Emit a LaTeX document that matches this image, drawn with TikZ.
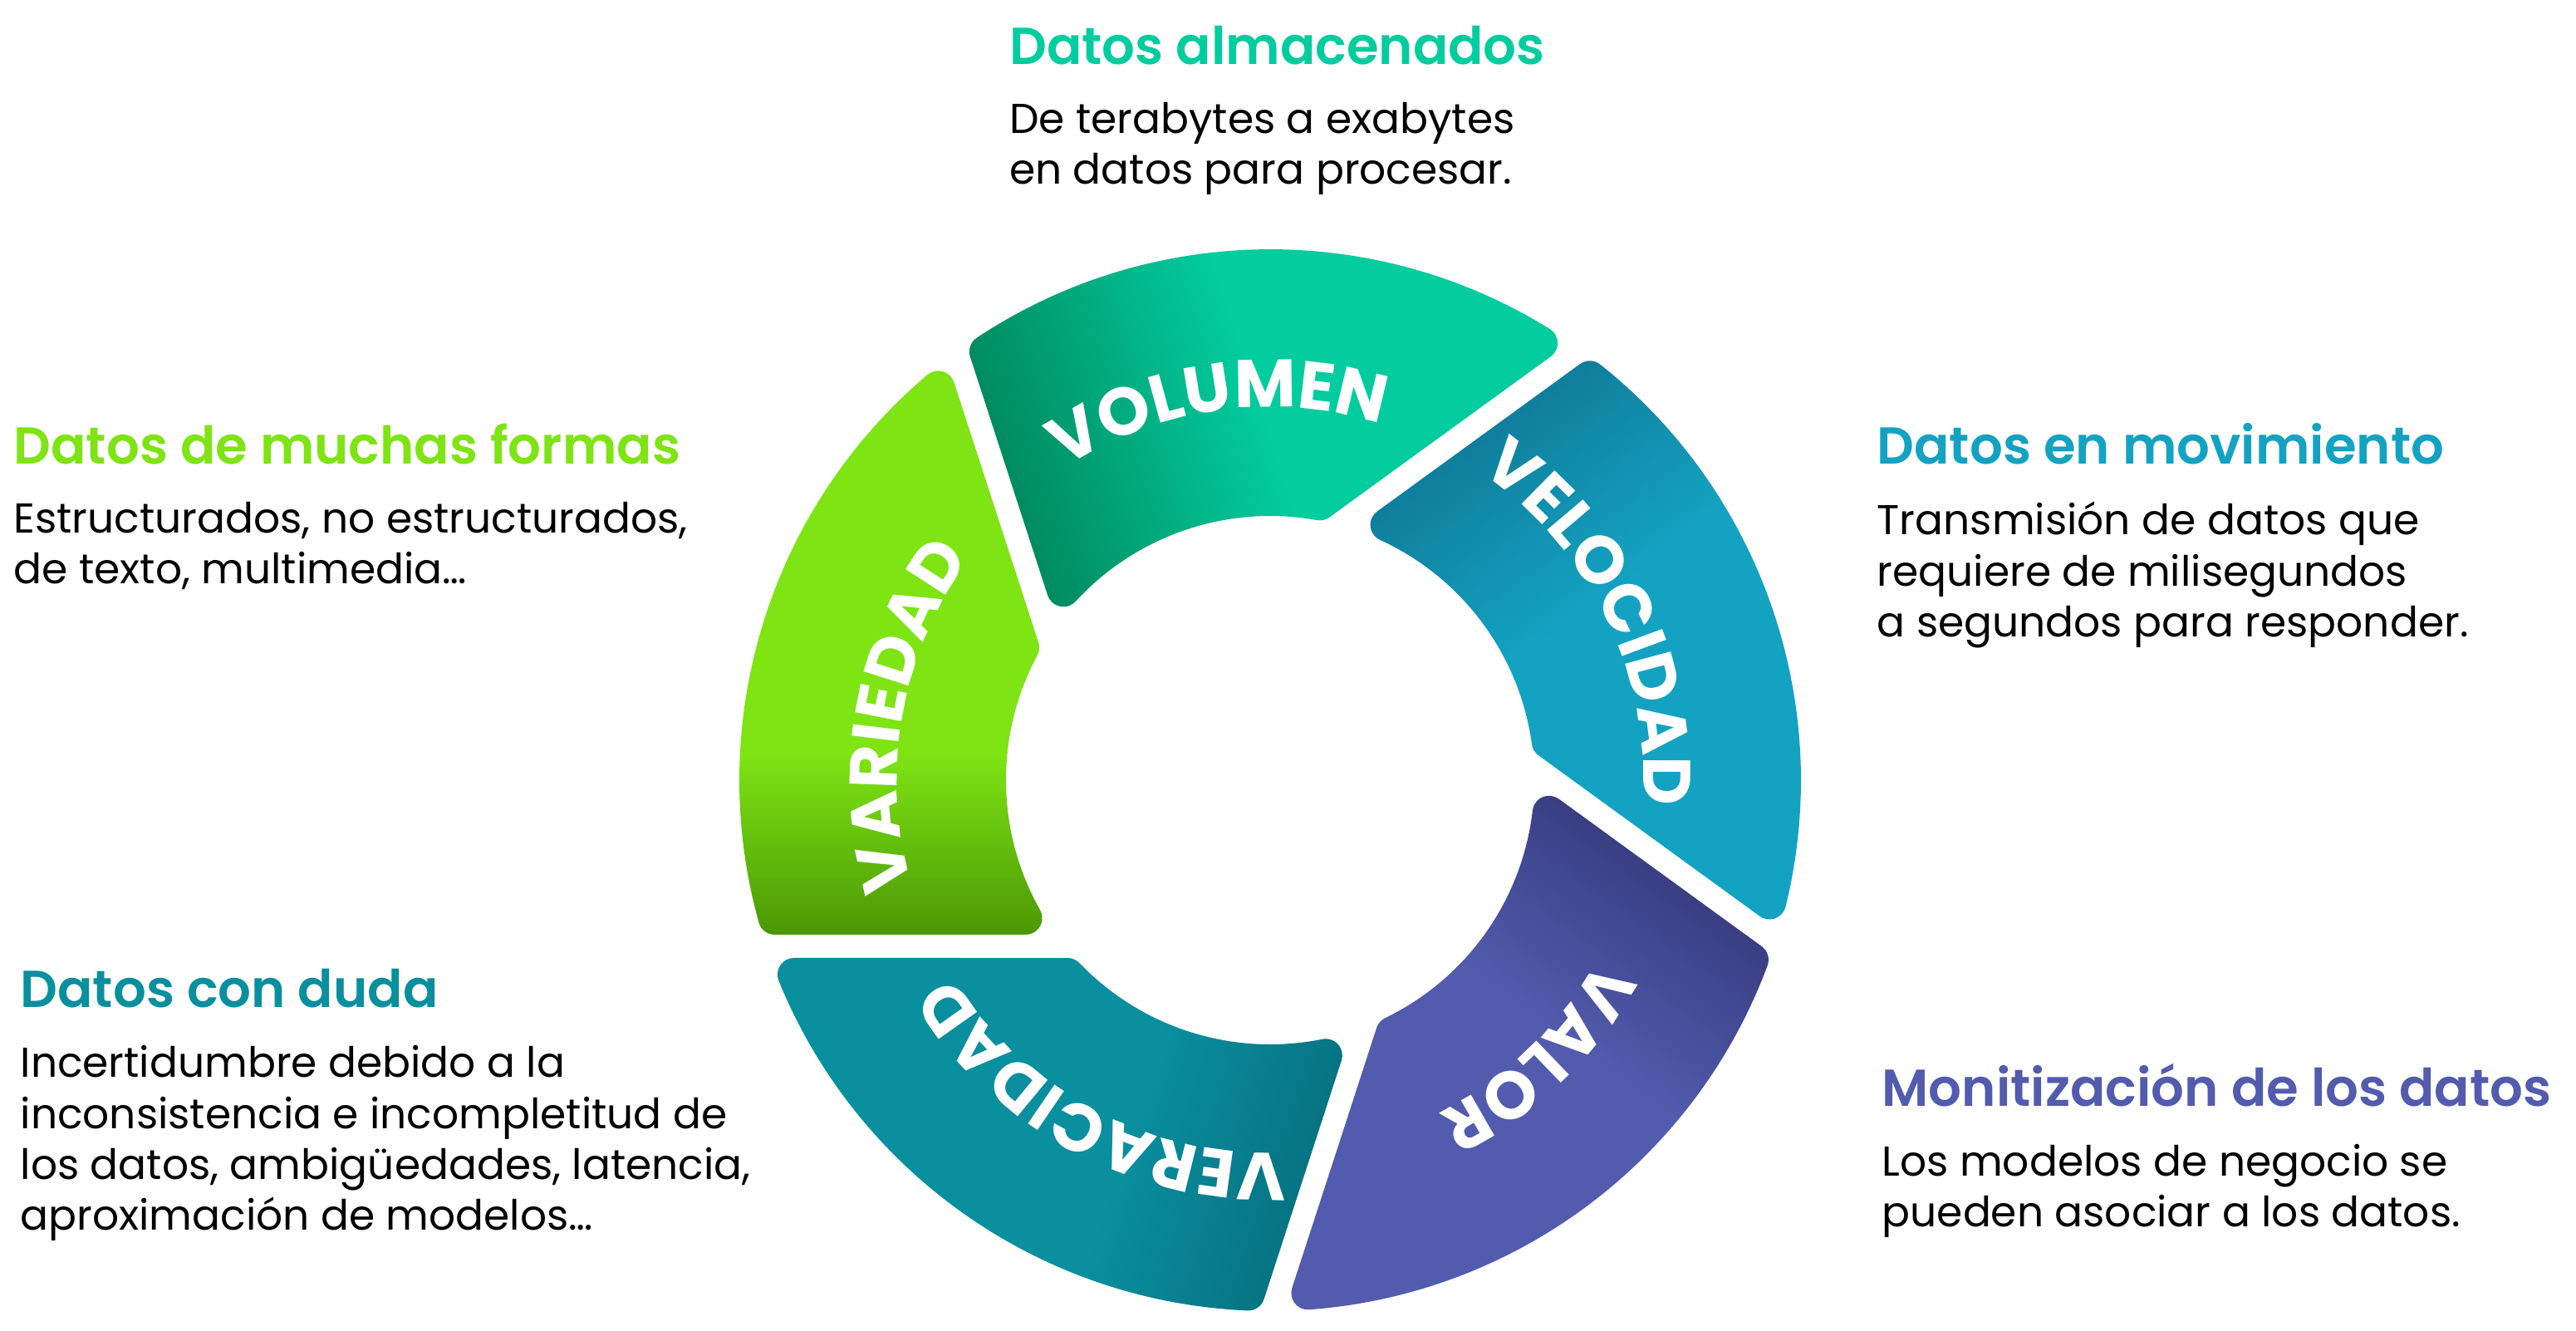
\documentclass[tikz,border=0pt]{standalone}
\usepackage{fontspec}
\setmainfont{Poppins}
\newfontfamily\headfont{Poppins SemiBold}
\usetikzlibrary{positioning,decorations.text}
\definecolor{volgreen}{HTML}{03CC9F}
\definecolor{voldark}{HTML}{00895D}
\definecolor{velblue}{HTML}{14A2C2}
\definecolor{veldark}{HTML}{0F7A98}
\definecolor{valpurple}{HTML}{525BAD}
\definecolor{valdark}{HTML}{363A7D}
\definecolor{verteal}{HTML}{0A8F9F}
\definecolor{verdark}{HTML}{067281}
\definecolor{varlime}{HTML}{7EE414}
\definecolor{vardark}{HTML}{4B9805}
\pgfdeclareverticalshading{varshade}{100bp}{color(0bp)=(vardark); color(25bp)=(vardark); color(41bp)=(varlime); color(100bp)=(varlime)}
\pgfdeclareverticalshading{volshade}{100bp}{color(0bp)=(voldark); color(25bp)=(voldark); color(50bp)=(volgreen); color(100bp)=(volgreen)}
\pgfdeclareverticalshading{velshade}{100bp}{color(0bp)=(veldark); color(25bp)=(veldark); color(47bp)=(velblue); color(100bp)=(velblue)}
\pgfdeclareverticalshading{valshade}{100bp}{color(0bp)=(valdark); color(25bp)=(valdark); color(47bp)=(valpurple); color(100bp)=(valpurple)}
\pgfdeclareverticalshading{vershade}{100bp}{color(0bp)=(verdark); color(25bp)=(verdark); color(44bp)=(verteal); color(100bp)=(verteal)}
\newcommand\ringsize{\bfseries\fontsize{23}{23}\selectfont}
\tikzset{
  headtext/.style={anchor=base west,inner sep=0pt,
                   font=\headfont\fontsize{17.8}{22}\selectfont},
  bodytext/.style={align=left,inner sep=0pt,anchor=north west,
                   font=\fontsize{14.3}{17.4}\selectfont,
                   execute at begin node={\rule{0pt}{1em}}},
  ringlabel/.style={decorate,decoration={text along path,text align=center,
                    text color=white,text/.expanded={|\noexpand\ringsize|#1}}}
}
\begin{document}
\begin{tikzpicture}[x=1cm,y=1cm]
    \useasboundingbox (-15.29,-6.62) rectangle (15.72,9.39);
    \def\Rout{6.39}\def\Rin{3.18}\def\goff{2.00}\def\ghalf{0.14}\def\rc{0.20}
    \pgfmathsetmacro\cA{\goff-\ghalf}
    \pgfmathsetmacro\cB{\goff+\ghalf}
    \pgfmathsetmacro\eA{\cA-\rc}
    \pgfmathsetmacro\eB{\cB+\rc}
    \pgfmathsetmacro\toA{sqrt((\Rout-\rc)^2-(\eA)^2)}
    \pgfmathsetmacro\toB{sqrt((\Rout-\rc)^2-(\eB)^2)}
    \pgfmathsetmacro\tiA{sqrt((\Rin+\rc)^2-(\eA)^2)}
    \pgfmathsetmacro\tiB{sqrt((\Rin+\rc)^2-(\eB)^2)}
    \pgfmathsetmacro\oA{atan2(\eA,\toA)}
    \pgfmathsetmacro\oB{atan2(\eB,\toB)}
    \pgfmathsetmacro\iA{atan2(\eA,\tiA)}
    \pgfmathsetmacro\iB{atan2(\eB,\tiB)}
    \pgfmathsetmacro\pA{atan2(\cA,\toA)}
    \pgfmathsetmacro\pAr{veclen(\cA,\toA)}
    \pgfmathsetmacro\pB{atan2(\cB,\tiB)}
    \pgfmathsetmacro\pBr{veclen(\cB,\tiB)}
    % five ring pieces, cut by offset gaps
    \foreach \k/\lab/\shd/\tang in {0/VARIEDAD/varshade/170,
        1/VOLUMEN/volshade/98, 2/VELOCIDAD/velshade/26,
        3/VALOR/valshade/-46, 4/VERACIDAD/vershade/-118}{
      \pgfmathsetmacro\a{180-72*\k}
      \pgfmathsetmacro\b{\a-72}
      \pgfmathsetmacro\sh{-72*\k}
      \pgfmathsetmacro\sa{\a+\pA}
      \pgfmathsetmacro\fa{\a+90}
      \pgfmathsetmacro\ga{\a+\oA}
      \pgfmathsetmacro\gb{\b+\oB}
      \pgfmathsetmacro\fb{\b-90}
      \pgfmathsetmacro\sb{\b+\pB}
      \pgfmathsetmacro\hb{\b+\iB-180}
      \pgfmathsetmacro\jb{\b+\iB}
      \pgfmathsetmacro\ja{\a+\iA}
      \pgfmathsetmacro\ha{\a+\iA+180}
      \shade[shading=\shd,shading angle=\sh]
        (\sa:\pAr) arc[start angle=\fa,end angle=\ga,radius=\rc]
        arc[start angle=\ga,end angle=\gb,radius=\Rout]
        arc[start angle=\gb,end angle=\fb,radius=\rc]
        -- (\sb:\pBr) arc[start angle=\fb,end angle=\hb,radius=\rc]
        arc[start angle=\jb,end angle=\ja,radius=\Rin]
        arc[start angle=\ha,end angle=\fa,radius=\rc] -- cycle;
      \pgfmathsetmacro\ts{\tang+60}
      \pgfmathsetmacro\te{\tang-60}
      \path[ringlabel=\lab] (\ts:4.49) arc[start angle=\ts,end angle=\te,radius=4.49];
    }
    \node[headtext,text=volgreen] (almhead) at (-3.145,8.62) {Datos almacenados};
    \node[bodytext,below=0.455cm of almhead.base west,anchor=north west] (almbody)
      {De terabytes a exabytes\\en datos para procesar.};
    \node[headtext,text=varlime] (varhead) at (-15.13,3.81) {Datos de muchas formas};
    \node[bodytext,below=0.455cm of varhead.base west,anchor=north west] (varbody)
      {Estructurados, no estructurados,\\de texto, multimedia…};
    \node[headtext,text=velblue] (velhead) at (7.30,3.81) {Datos en movimiento};
    \node[bodytext,below=0.455cm of velhead.base west,anchor=north west] (velbody)
      {Transmisión de datos que\\requiere de milisegundos\\a segundos para responder.};
    \node[headtext,text=verteal] (verhead) at (-15.05,-2.735) {Datos con duda};
    \node[bodytext,below=0.455cm of verhead.base west,anchor=north west] (verbody)
      {Incertidumbre debido a la\\inconsistencia e incompletitud de\\los datos, ambigüedades, latencia,\\aproximación de modelos…};
    \node[headtext,text=valpurple] (valhead) at (7.36,-3.92) {Monitización de los datos};
    \node[bodytext,below=0.455cm of valhead.base west,anchor=north west] (valbody)
      {Los modelos de negocio se\\pueden asociar a los datos.};
  \end{tikzpicture}
\end{document}
